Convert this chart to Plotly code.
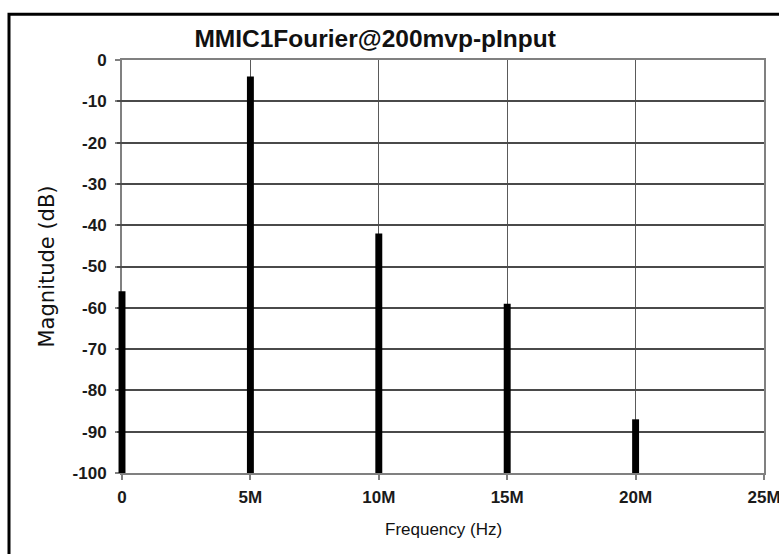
import plotly.graph_objects as go

# Spectrum lines of the MMIC output (frequency in Hz, magnitude in dB)
freqs = [0, 5e6, 10e6, 15e6, 20e6]
mags = [-56, -4, -42, -59, -87]

x_ticks = [0, 5e6, 10e6, 15e6, 20e6, 25e6]
x_tick_text = ["0", "5M", "10M", "15M", "20M", "25M"]
y_ticks = [0, -10, -20, -30, -40, -50, -60, -70, -80, -90, -100]
y_tick_text = ["0", "-10", "-20", "-30", "-40", "-50", "-60", "-70", "-80", "-90", "-100"]

floor_db = -100
x_max = 25e6

# The bars live on a hidden x axis that starts a few pixels left of the
# visible one, so the 0 Hz bar is drawn whole instead of clipped in half.
left_px, right_px, lead_px = 117, 15, 5
plot_w = 779 - left_px - right_px
x_min = -x_max * lead_px / (plot_w - lead_px)

fig = go.Figure()
fig.add_trace(go.Bar(
    x=freqs,
    y=[m - floor_db for m in mags],
    base=floor_db,
    width=0.27e6,
    xaxis="x2", yaxis="y",
    marker=dict(color="black", line=dict(width=0)),
    hoverinfo="skip",
))
# invisible points on the visible axes carry the hover text
fig.add_trace(go.Scatter(
    x=freqs, y=mags, mode="markers",
    xaxis="x", yaxis="y",
    marker=dict(size=8, opacity=0),
    hovertemplate="%{x}: %{y} dB<extra></extra>",
))

tick_font = dict(family="Liberation Sans, Arial, sans-serif", size=17, color="#1a1a1a", weight="bold")

fig.update_layout(
    width=779, height=554,
    margin=dict(l=left_px, r=right_px, t=60, b=81),
    paper_bgcolor="white", plot_bgcolor="rgba(0,0,0,0)",
    showlegend=False,
    title=dict(
        text="<b>MMIC1Fourier@200mvp-pInput</b>",
        x=0.399, xref="paper", xanchor="center",
        y=0.931, yref="container", yanchor="middle",
        font=dict(family="Liberation Sans, Arial, sans-serif", size=24.5, color="#111111"),
    ),
    xaxis=dict(
        domain=[lead_px / plot_w, 1], anchor="y", automargin=False,
        range=[0, x_max],
        tickvals=x_ticks, ticktext=x_tick_text,
        showgrid=True, gridcolor="#5a5a5a", gridwidth=1,
        showline=True, linecolor="#808080", linewidth=2, mirror=True,
        ticks="outside", ticklen=5, tickcolor="#808080", tickwidth=1.5,
        tickfont=tick_font, zeroline=False, ticklabeloverflow="allow",
        ticklabelstandoff=3,
    ),
    xaxis2=dict(
        domain=[0, 1], anchor="y", automargin=False,
        range=[x_min, x_max], visible=False, showgrid=False,
    ),
    yaxis=dict(
        range=[-100, 0], anchor="x", automargin=False,
        tickvals=y_ticks, ticktext=y_tick_text,
        showgrid=True, gridcolor="#4a4a4a", gridwidth=1.6,
        showline=True, linecolor="#808080", linewidth=2, mirror=True,
        ticks="outside", ticklen=5, tickcolor="#808080", tickwidth=1.5,
        tickfont=tick_font, zeroline=False, ticklabelstandoff=5,
    ),
    annotations=[
        dict(text="Frequency (Hz)", xref="paper", yref="paper",
             x=(443 - left_px) / plot_w, y=-0.138, xanchor="center", yanchor="middle",
             showarrow=False,
             font=dict(family="Liberation Sans, Arial, sans-serif", size=17, color="#111111")),
        dict(text="Magnitude (dB)", xref="paper", yref="paper",
             x=(46 - left_px) / plot_w, y=0.5, xanchor="center", yanchor="middle",
             textangle=-90, showarrow=False,
             font=dict(family="DejaVu Sans, sans-serif", size=21, color="#111111")),
    ],
    shapes=[
        # outer frame: only the top and left edges fall inside the page
        dict(type="rect", xref="paper", yref="paper",
             x0=(9 - left_px) / plot_w, x1=1.2, y0=-0.3, y1=1.111,
             line=dict(color="black", width=3), fillcolor="rgba(0,0,0,0)", layer="above"),
    ],
)

fig.write_html("out.html")
